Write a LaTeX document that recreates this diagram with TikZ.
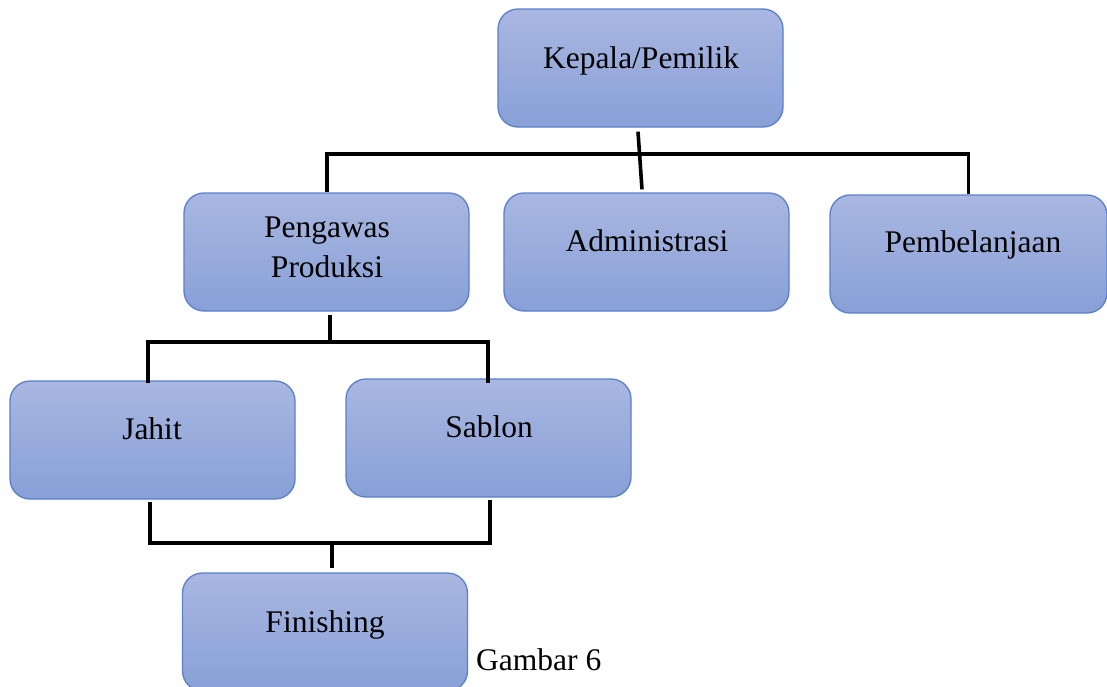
\documentclass[tikz,border=0pt]{standalone}
\usepackage{fontspec}
\setmainfont{Liberation Serif}
\usetikzlibrary{calc}
\definecolor{boxtop}{HTML}{A9B7E1}
\definecolor{boxbot}{HTML}{88A0D7}
\definecolor{boxedge}{HTML}{5A7FCB}
\tikzset{
  box/.style={draw=boxedge, line width=1.3pt, rounded corners=20pt,
    top color=boxtop, bottom color=boxbot, minimum width=285pt,
    minimum height=118pt, inner sep=0pt},
  txt/.style={anchor=base, inner sep=0pt, align=center,
    font=\fontsize{31.5}{40}\selectfont},
  conn/.style={draw=black, line width=3.6pt, line join=miter}
}
\begin{document}
\begin{tikzpicture}[x=1pt,y=-1pt]
\useasboundingbox (0,0) rectangle (1107,686);
\clip (0,0) rectangle (1107,686);
% boxes
\node[box] (k) at (640.5,68) {};
\node[box] (p) at (326.5,252) {};
\node[box] (a) at (646.5,252) {};
\node[box, minimum width=277pt] (b) at (968.5,254) {};
\node[box] (j) at (152.5,440) {};
\node[box] (s) at (488.5,438) {};
\node[box] (f) at (325,632) {};
% texts
\node[txt] (kt) at (641,68) {Kepala/Pemilik};
\node[txt] (pt1) at (327,237) {Pengawas};
\node[txt] (pt2) at (327,277) {Produksi};
\node[txt] (at) at (647,251) {Administrasi};
\node[txt] (bt) at (973,252) {Pembelanjaan};
\node[txt] (jt) at (152,439) {Jahit};
\node[txt] (st) at (489,437) {Sablon};
\node[txt] (ft) at (325,632) {Finishing};
\node[txt, anchor=base west] (cap) at (476,670) {Gambar 6};
% junctions
\coordinate (t1) at (646,154);
\coordinate (t2) at (330,342);
\coordinate (t3) at (332,543);
% connectors
\draw[conn] ($(k.south)+(-2.5,4)$) -- ($(a.north)+(-4.5,-3)$);
\draw[conn] ($(p.north)+(0.5,0)$) |- (t1) -| (b.north);
\draw[conn] ($(p.south)+(3.5,3)$) -- (t2);
\draw[conn] ($(j.north)+(-4.5,3)$) |- (t2) -| ($(s.north)+(-0.5,5)$);
\draw[conn] ($(j.south)+(-2.5,2)$) |- (t3) -| ($(s.south)+(1.5,2)$);
\draw[conn] (t3) -- ($(f.north)+(7,-4)$);
\end{tikzpicture}
\end{document}
